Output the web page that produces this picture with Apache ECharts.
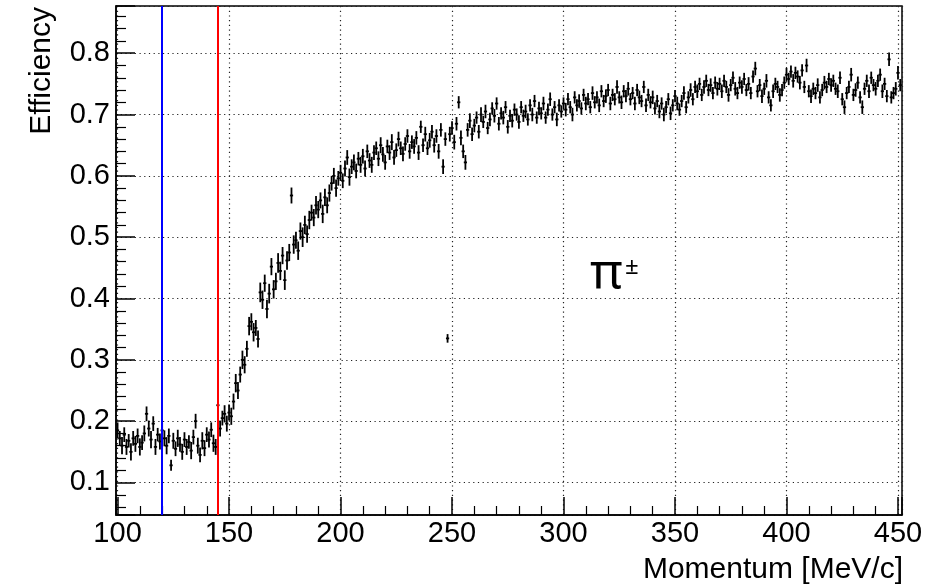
<!DOCTYPE html>
<html>
<head>
<meta charset="utf-8">
<script src="https://cdn.jsdelivr.net/npm/echarts@6/dist/echarts.min.js"></script>
<style>
  html, body { margin: 0; padding: 0; background: #fff; }
  #chart { width: 944px; height: 586px; }
</style>
</head>
<body>
<div id="chart"></div>
<script>
// 1 MeV/c bins, first bin centred at 100 MeV/c
const binStart = 100;
const binWidth = 1;

// efficiency per bin (rows of 10 bins)
const efficiency = [
  0.185, 0.172, 0.160, 0.178, 0.158, 0.168, 0.150, 0.172, 0.163, 0.176, // 100
  0.158, 0.165, 0.180, 0.212, 0.188, 0.170, 0.196, 0.158, 0.178, 0.167, // 110
  0.185, 0.172, 0.160, 0.176, 0.128, 0.168, 0.155, 0.172, 0.162, 0.150, // 120
  0.170, 0.158, 0.166, 0.152, 0.174, 0.200, 0.160, 0.145, 0.168, 0.156, // 130
  0.178, 0.170, 0.186, 0.164, 0.158, 0.226, 0.188, 0.205, 0.212, 0.196, // 140
  0.214, 0.208, 0.232, 0.262, 0.250, 0.276, 0.300, 0.292, 0.318, 0.355, // 150
  0.362, 0.345, 0.352, 0.334, 0.410, 0.398, 0.425, 0.383, 0.408, 0.452, // 160
  0.415, 0.428, 0.458, 0.445, 0.470, 0.430, 0.462, 0.475, 0.568, 0.488, // 170
  0.495, 0.478, 0.510, 0.500, 0.520, 0.505, 0.528, 0.540, 0.532, 0.552, // 180
  0.545, 0.560, 0.538, 0.565, 0.552, 0.572, 0.588, 0.600, 0.580, 0.596, // 190
  0.605, 0.592, 0.612, 0.630, 0.598, 0.615, 0.622, 0.608, 0.628, 0.618, // 200
  0.632, 0.612, 0.640, 0.625, 0.618, 0.638, 0.645, 0.628, 0.650, 0.635, // 210
  0.622, 0.648, 0.638, 0.655, 0.630, 0.642, 0.660, 0.645, 0.636, 0.652, // 220
  0.665, 0.640, 0.655, 0.648, 0.662, 0.638, 0.680, 0.650, 0.668, 0.645, // 230
  0.658, 0.672, 0.650, 0.665, 0.640, 0.675, 0.615, 0.660, 0.335, 0.668, // 240
  0.678, 0.655, 0.685, 0.720, 0.662, 0.640, 0.622, 0.675, 0.690, 0.668, // 250
  0.682, 0.695, 0.672, 0.700, 0.688, 0.705, 0.678, 0.692, 0.710, 0.698, // 260
  0.718, 0.685, 0.702, 0.695, 0.712, 0.680, 0.698, 0.690, 0.708, 0.700, // 270
  0.688, 0.712, 0.698, 0.705, 0.692, 0.715, 0.700, 0.722, 0.695, 0.710, // 280
  0.702, 0.718, 0.695, 0.708, 0.725, 0.700, 0.712, 0.692, 0.715, 0.705, // 290
  0.718, 0.708, 0.725, 0.712, 0.700, 0.728, 0.715, 0.722, 0.710, 0.732, // 300
  0.718, 0.725, 0.712, 0.735, 0.720, 0.728, 0.715, 0.738, 0.722, 0.730, // 310
  0.740, 0.718, 0.732, 0.725, 0.745, 0.728, 0.720, 0.738, 0.730, 0.742, // 320
  0.725, 0.735, 0.718, 0.740, 0.728, 0.722, 0.745, 0.715, 0.732, 0.720, // 330
  0.728, 0.710, 0.722, 0.705, 0.718, 0.700, 0.712, 0.725, 0.702, 0.715, // 340
  0.730, 0.718, 0.708, 0.722, 0.735, 0.712, 0.728, 0.740, 0.725, 0.745, // 350
  0.738, 0.750, 0.732, 0.745, 0.755, 0.740, 0.748, 0.735, 0.752, 0.742, // 360
  0.750, 0.738, 0.755, 0.745, 0.732, 0.748, 0.760, 0.742, 0.735, 0.752, // 370
  0.745, 0.758, 0.740, 0.750, 0.735, 0.762, 0.775, 0.738, 0.748, 0.730, // 380
  0.742, 0.755, 0.728, 0.715, 0.738, 0.750, 0.745, 0.732, 0.740, 0.752, // 390
  0.765, 0.758, 0.770, 0.755, 0.768, 0.762, 0.752, 0.772, 0.745, 0.780, // 400
  0.738, 0.730, 0.742, 0.735, 0.748, 0.728, 0.740, 0.752, 0.745, 0.758, // 410
  0.748, 0.755, 0.742, 0.738, 0.760, 0.725, 0.712, 0.735, 0.745, 0.765, // 420
  0.732, 0.740, 0.752, 0.728, 0.712, 0.742, 0.755, 0.738, 0.760, 0.748, // 430
  0.742, 0.755, 0.765, 0.738, 0.750, 0.730, 0.790, 0.728, 0.735, 0.742, // 440
  0.768, 0.748                                                          // 450
];

// statistical error per bin (half length of the vertical bar)
const efficiencyErr = [
  0.013, 0.012, 0.014, 0.012, 0.013, 0.011, 0.014, 0.012, 0.013, 0.012,
  0.014, 0.012, 0.013, 0.012, 0.013, 0.014, 0.012, 0.013, 0.011, 0.013,
  0.012, 0.013, 0.014, 0.012, 0.009, 0.013, 0.012, 0.014, 0.012, 0.013,
  0.012, 0.013, 0.011, 0.014, 0.012, 0.012, 0.013, 0.012, 0.014, 0.013,
  0.012, 0.013, 0.012, 0.014, 0.013, 0.015, 0.013, 0.012, 0.014, 0.013,
  0.013, 0.014, 0.013, 0.015, 0.014, 0.013, 0.015, 0.014, 0.013, 0.015,
  0.014, 0.015, 0.013, 0.014, 0.016, 0.015, 0.014, 0.015, 0.016, 0.014,
  0.015, 0.014, 0.016, 0.015, 0.014, 0.016, 0.015, 0.014, 0.013, 0.015,
  0.014, 0.015, 0.014, 0.016, 0.015, 0.014, 0.015, 0.013, 0.014, 0.015,
  0.014, 0.013, 0.015, 0.014, 0.013, 0.014, 0.012, 0.013, 0.014, 0.012,
  0.013, 0.012, 0.013, 0.012, 0.014, 0.012, 0.013, 0.012, 0.011, 0.013,
  0.012, 0.013, 0.011, 0.012, 0.013, 0.012, 0.011, 0.012, 0.013, 0.012,
  0.012, 0.011, 0.012, 0.013, 0.012, 0.011, 0.012, 0.011, 0.012, 0.011,
  0.011, 0.012, 0.011, 0.012, 0.011, 0.012, 0.010, 0.011, 0.012, 0.011,
  0.012, 0.011, 0.012, 0.011, 0.012, 0.011, 0.012, 0.011, 0.007, 0.012,
  0.011, 0.012, 0.011, 0.010, 0.012, 0.011, 0.012, 0.011, 0.012, 0.011,
  0.011, 0.010, 0.011, 0.012, 0.010, 0.011, 0.010, 0.011, 0.010, 0.011,
  0.010, 0.011, 0.010, 0.011, 0.010, 0.011, 0.010, 0.011, 0.010, 0.010,
  0.011, 0.010, 0.010, 0.011, 0.010, 0.010, 0.011, 0.010, 0.010, 0.011,
  0.010, 0.011, 0.010, 0.010, 0.011, 0.010, 0.010, 0.011, 0.010, 0.010,
  0.010, 0.011, 0.010, 0.010, 0.011, 0.010, 0.010, 0.011, 0.010, 0.010,
  0.011, 0.010, 0.010, 0.011, 0.010, 0.010, 0.011, 0.010, 0.010, 0.011,
  0.010, 0.011, 0.010, 0.010, 0.011, 0.010, 0.011, 0.010, 0.010, 0.011,
  0.010, 0.010, 0.011, 0.010, 0.011, 0.010, 0.010, 0.011, 0.010, 0.010,
  0.011, 0.010, 0.010, 0.011, 0.010, 0.011, 0.010, 0.010, 0.011, 0.010,
  0.010, 0.011, 0.010, 0.010, 0.011, 0.010, 0.010, 0.011, 0.010, 0.010,
  0.011, 0.010, 0.010, 0.011, 0.010, 0.010, 0.011, 0.010, 0.010, 0.011,
  0.010, 0.011, 0.010, 0.010, 0.011, 0.010, 0.010, 0.011, 0.010, 0.010,
  0.011, 0.010, 0.010, 0.011, 0.010, 0.010, 0.011, 0.010, 0.010, 0.011,
  0.010, 0.011, 0.010, 0.010, 0.011, 0.010, 0.010, 0.011, 0.010, 0.010,
  0.011, 0.010, 0.010, 0.011, 0.010, 0.010, 0.011, 0.010, 0.010, 0.011,
  0.010, 0.011, 0.010, 0.010, 0.011, 0.010, 0.010, 0.011, 0.010, 0.010,
  0.011, 0.010, 0.010, 0.011, 0.010, 0.010, 0.011, 0.010, 0.010, 0.011,
  0.010, 0.011, 0.010, 0.010, 0.011, 0.010, 0.010, 0.011, 0.010, 0.010,
  0.011, 0.010, 0.010, 0.011, 0.010, 0.010, 0.011, 0.010, 0.010, 0.011,
  0.011, 0.010
];

// vertical cut lines [MeV/c]
const cutLines = [
  { x: 120, color: '#0000ff' },
  { x: 145, color: '#ff0000' }
];

const xRange = [99.3, 451.8];
const yRange = [0.047, 0.877];
const xMajor = 50;
const yMajor = 0.1;

const points = efficiency.map((v, i) => [binStart + i * binWidth, v, efficiencyErr[i]]);

const FONT = 'Liberation Sans, Arial, Helvetica, sans-serif';

function renderErrorBar(params, api) {
  const x = api.value(0), y = api.value(1), e = api.value(2);
  const top = api.coord([x, y + e]);
  const bot = api.coord([x, y - e]);
  const left = api.coord([x - binWidth / 2, y]);
  const right = api.coord([x + binWidth / 2, y]);
  const style = { stroke: '#000', lineWidth: 1.8 };
  return {
    type: 'group',
    children: [
      { type: 'line', shape: { x1: top[0], y1: top[1], x2: bot[0], y2: bot[1] }, style },
      { type: 'line', shape: { x1: left[0] - 0.5, y1: left[1], x2: right[0] + 0.5, y2: right[1] }, style }
    ]
  };
}

const onMultiple = (v, step) => Math.abs(v / step - Math.round(v / step)) < 1e-6;

const gridLine = { show: true, lineStyle: { color: '#222', width: 1.2, type: [1.2, 3.5] } };

const chart = echarts.init(document.getElementById('chart'), null, { renderer: 'canvas' });
chart.setOption({
  animation: false,
  backgroundColor: '#fff',
  grid: {
    left: 116, right: 42, top: 6, bottom: 71,
    show: true, borderColor: '#000', borderWidth: 1.5, backgroundColor: 'transparent'
  },
  xAxis: {
    type: 'value',
    min: xRange[0], max: xRange[1],
    minInterval: xMajor, maxInterval: xMajor,
    axisLine: { show: true, lineStyle: { color: '#000', width: 1.5 } },
    axisTick: { show: true, inside: true, length: 18, lineStyle: { color: '#000', width: 1.5 } },
    minorTick: { show: true, splitNumber: 5, length: 9, lineStyle: { color: '#000', width: 1.2 } },
    axisLabel: {
      color: '#000', fontFamily: FONT, fontSize: 29, margin: 4,
      formatter: v => (onMultiple(v, xMajor) ? String(Math.round(v)) : '')
    },
    splitLine: gridLine,
    minorSplitLine: { show: false }
  },
  yAxis: {
    type: 'value',
    min: yRange[0], max: yRange[1],
    minInterval: yMajor, maxInterval: yMajor,
    axisLine: { show: true, lineStyle: { color: '#000', width: 1.5 } },
    axisTick: { show: true, inside: true, length: 19, lineStyle: { color: '#000', width: 1.5 } },
    minorTick: { show: true, splitNumber: 5, length: 10, lineStyle: { color: '#000', width: 1.2 } },
    axisLabel: {
      color: '#000', fontFamily: FONT, fontSize: 29, margin: 6,
      formatter: v => (onMultiple(v, yMajor) ? v.toFixed(1) : '')
    },
    splitLine: gridLine
  },
  series: [{
    type: 'custom',
    renderItem: renderErrorBar,
    data: points,
    encode: { x: 0, y: 1 },
    clip: true,
    silent: true,
    markLine: {
      silent: true,
      symbol: ['none', 'none'],
      label: { show: false },
      data: cutLines.map(c => ({ xAxis: c.x, lineStyle: { color: c.color, width: 2, type: 'solid' } }))
    }
  }],
  graphic: [
    {
      type: 'text', x: 57, y: 7, rotation: Math.PI / 2,
      style: { text: 'Efficiency', font: '30px ' + FONT, fill: '#000', align: 'right', verticalAlign: 'bottom' }
    },
    {
      type: 'text', x: 903, y: 585,
      style: { text: 'Momentum [MeV/c]', font: '30px ' + FONT, fill: '#000', align: 'right', verticalAlign: 'bottom' }
    },
    {
      type: 'text', x: 590, y: 275,
      style: { text: 'π', font: '50px Noto Sans', fill: '#000', align: 'left', verticalAlign: 'middle' }
    },
    {
      type: 'text', x: 625, y: 267,
      style: { text: '±', font: '24px Noto Sans', fill: '#000', align: 'left', verticalAlign: 'middle' }
    }
  ]
});
window.addEventListener('resize', () => chart.resize());
</script>
</body>
</html>
